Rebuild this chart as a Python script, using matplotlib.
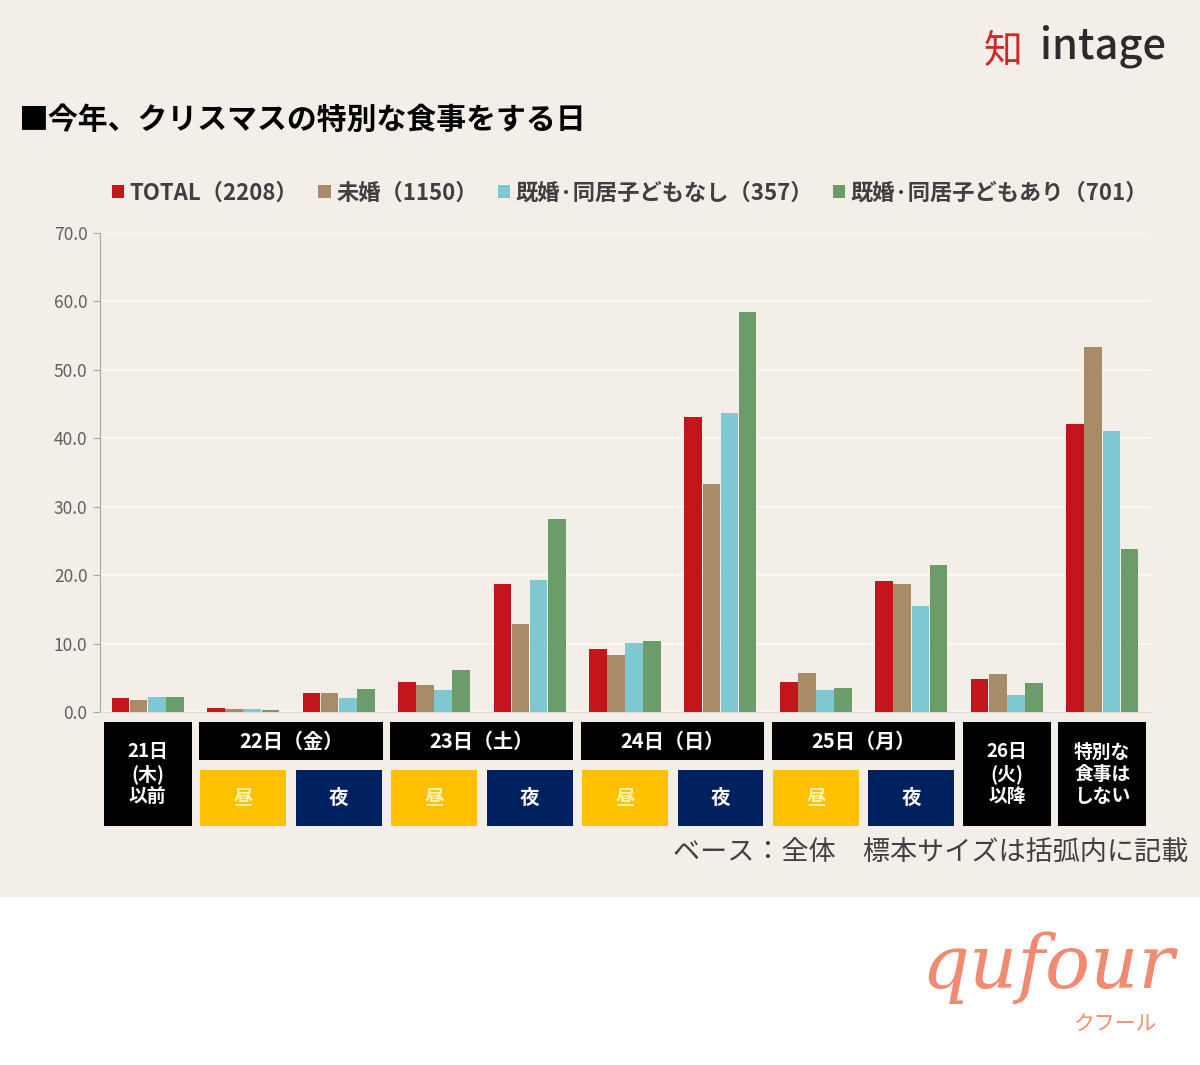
import matplotlib
matplotlib.use("Agg")
import matplotlib.pyplot as plt
import matplotlib.transforms as mtransforms
from matplotlib.patches import Rectangle, Patch
import numpy as np

plt.rcParams['font.family'] = ['Noto Sans CJK JP', 'DejaVu Sans']

# ---- data ----
categories = ["21日以前", "22日昼", "22日夜", "23日昼", "23日夜", "24日昼", "24日夜",
              "25日昼", "25日夜", "26日以降", "特別な食事はしない"]
series_names = ["TOTAL（2208）", "未婚（1150）", "既婚·同居子どもなし（357）", "既婚·同居子どもあり（701）"]
total      = [2.0, 0.6, 2.8, 4.4, 18.7, 9.2, 43.1, 4.4, 19.1, 4.8, 42.1]
unmarried  = [1.8, 0.5, 2.8, 3.9, 12.9, 8.3, 33.3, 5.7, 18.7, 5.6, 53.3]
married_nc = [2.2, 0.5, 2.0, 3.2, 19.3, 10.1, 43.7, 3.2, 15.5, 2.5, 41.1]
married_c  = [2.2, 0.3, 3.4, 6.1, 28.2, 10.4, 58.5, 3.5, 21.5, 4.2, 23.8]
series = [total, unmarried, married_nc, married_c]
colors = ["#C3161C", "#A88B67", "#7EC8D2", "#6B9C6A"]

yticks = [0, 10, 20, 30, 40, 50, 60, 70]

# label boxes below the axis: (first index, last index, label, tall)
day_labels = [(0, 0, "21日\n(木)\n以前", True),
              (1, 2, "22日（金）", False),
              (3, 4, "23日（土）", False),
              (5, 6, "24日（日）", False),
              (7, 8, "25日（月）", False),
              (9, 9, "26日\n(火)\n以降", True),
              (10, 10, "特別な\n食事は\nしない", True)]
time_labels = [(1, "昼"), (2, "夜"), (3, "昼"), (4, "夜"), (5, "昼"), (6, "夜"), (7, "昼"), (8, "夜")]

title = "■今年、クリスマスの特別な食事をする日"
note = "ベース：全体　標本サイズは括弧内に記載"

# ---- figure ----
W, H = 1200, 1065
fig = plt.figure(figsize=(W / 100, H / 100), dpi=100)
fig.patch.set_facecolor("white")
bg = "#F3EEE8"
fig.patches.append(Rectangle((0, (H - 897) / H), 1, 897 / H, transform=fig.transFigure,
                             facecolor=bg, edgecolor="none", zorder=-10))

ax = fig.add_axes([100 / W, (H - 712) / H, 1050 / W, 479 / H])
ax.set_facecolor(bg)

n = len(categories)
x = np.arange(n)
bw = 0.19
for i, (vals, c, name) in enumerate(zip(series, colors, series_names)):
    ax.bar(x + (i - 1.5) * bw, vals, width=bw * 0.97, color=c, label=name, zorder=3)

ax.set_xlim(-0.5, n - 0.5)
ax.set_ylim(0, 70)
ax.set_yticks(yticks)
ax.set_yticklabels([f"{v:.1f}" for v in yticks], fontsize=12.5, color="#5F5F5F")
ax.set_xticks([])
ax.grid(axis="y", color="#FBF9F6", linewidth=1.3, zorder=0)
for s in ["top", "right"]:
    ax.spines[s].set_visible(False)
ax.spines["left"].set_color("#A6A6A6")
ax.spines["bottom"].set_color("#E2DCD4")
ax.tick_params(axis="y", length=5, color="#A6A6A6", pad=4)

# ---- label boxes ----
tr = mtransforms.blended_transform_factory(ax.transData, fig.transFigure)
row1 = ((H - 760) / H, (H - 722) / H)
row2 = ((H - 826) / H, (H - 770) / H)
hw = 0.46
for i0, i1, lab, tall in day_labels:
    y0, y1 = (row2[0], row1[1]) if tall else row1
    r = Rectangle((i0 - hw, y0), (i1 - i0) + 2 * hw, y1 - y0, transform=tr,
                  facecolor="black", edgecolor="none", clip_on=False)
    fig.patches.append(r)
    fs = 13.5 if tall else 14.5
    fig.text((i0 + i1) / 2, (y0 + y1) / 2, lab, transform=tr, ha="center", va="center",
             color="white", fontsize=fs, fontweight="bold", linespacing=1.2)
for i, lab in time_labels:
    fc = "#FFC000" if lab == "昼" else "#002060"
    tc = "#FFF2B0" if lab == "昼" else "white"
    r = Rectangle((i - 0.45, row2[0]), 0.9, row2[1] - row2[0], transform=tr,
                  facecolor=fc, edgecolor="none", clip_on=False)
    fig.patches.append(r)
    fig.text(i, (row2[0] + row2[1]) / 2, lab, transform=tr, ha="center", va="center",
             color=tc, fontsize=14, fontweight="bold")

# ---- legend ----
handles = [Patch(facecolor=c, edgecolor="none") for c in colors]
fig.legend(handles, series_names, loc="center", bbox_to_anchor=(630 / W, (H - 193) / H),
           ncol=4, frameon=False, handlelength=0.55, handleheight=0.55,
           handletextpad=0.25, columnspacing=0.9, labelcolor="#404040",
           prop={"weight": "bold", "size": 16})

# ---- texts ----
fig.text(18 / W, (H - 120) / H, title, fontsize=21.5, fontweight="bold", color="black",
         ha="left", va="center")
fig.text(1188 / W, (H - 852) / H, note, fontsize=19.5, color="#404040", ha="right", va="center")

# intage logo
fig.text(1003 / W, (H - 52) / H, "知", fontsize=28, color="#D0282A", ha="center", va="center")
fig.text(1040 / W, (H - 46) / H, "intage", fontsize=30, color="#2B2B2B", ha="left", va="center",
         fontweight="medium")

# qufour logo
fig.text(1048 / W, (H - 968) / H, "qufour", fontsize=54, color="#F08B72", ha="center", va="center",
         family=["DejaVu Serif"], style="italic")
fig.text(1116 / W, (H - 1024) / H, "クフール", fontsize=15, color="#F08B72", ha="center", va="center")

fig.savefig("out.png", dpi=100, facecolor=fig.get_facecolor())
